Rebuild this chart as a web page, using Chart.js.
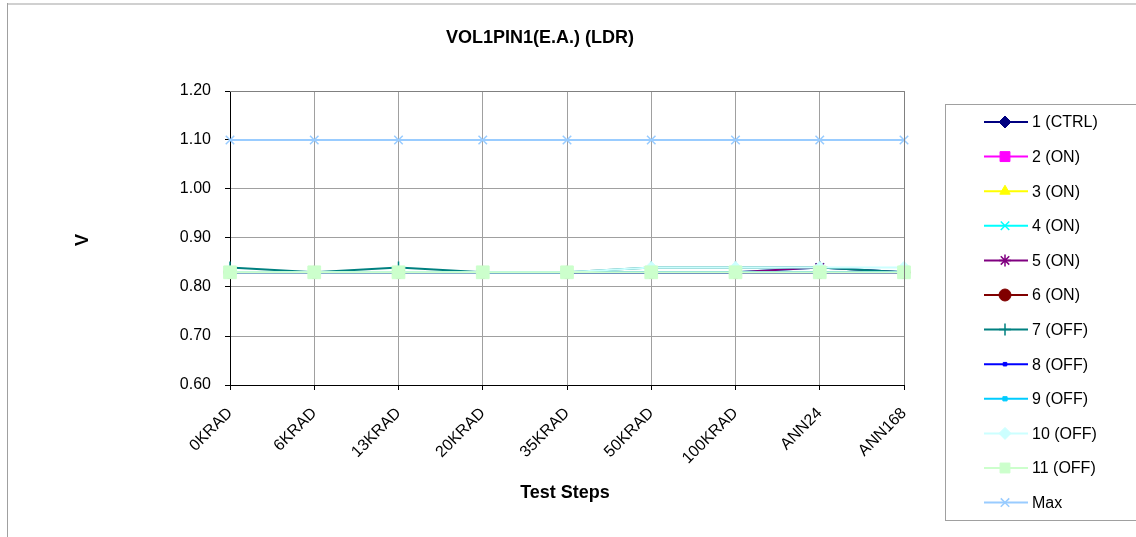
<!DOCTYPE html>
<html>
<head>
<meta charset="utf-8">
<script src="https://cdn.jsdelivr.net/npm/chart.js@4.4.0/dist/chart.umd.min.js"></script>
<style>
  html, body { margin: 0; padding: 0; background: #fff; }
  #wrap { width: 1136px; height: 537px; }
</style>
</head>
<body>
<div id="wrap"><canvas id="chart" width="1136" height="537"></canvas></div>
<script>
// test steps on the x axis
const steps = ["0KRAD", "6KRAD", "13KRAD", "20KRAD", "35KRAD", "50KRAD", "100KRAD", "ANN24", "ANN168"];
const yTicks = [0.60, 0.70, 0.80, 0.90, 1.00, 1.10, 1.20];

// measured values per device (V)
const dev1  = [0.83, 0.83, 0.83, 0.83, 0.83, 0.83, 0.83, 0.83, 0.83];
const dev2  = [0.83, 0.83, 0.83, 0.83, 0.83, 0.83, 0.83, 0.83, 0.83];
const dev3  = [0.83, 0.83, 0.83, 0.83, 0.83, 0.83, 0.83, 0.83, 0.83];
const dev4  = [0.83, 0.83, 0.83, 0.83, 0.83, 0.83, 0.83, 0.84, 0.83];
const dev5  = [0.83, 0.83, 0.83, 0.83, 0.83, 0.83, 0.83, 0.84, 0.83];
const dev6  = [0.83, 0.83, 0.83, 0.83, 0.83, 0.83, 0.83, 0.83, 0.83];
const dev7  = [0.84, 0.83, 0.84, 0.83, 0.83, 0.84, 0.84, 0.84, 0.83];
const dev8  = [0.83, 0.83, 0.83, 0.83, 0.83, 0.83, 0.83, 0.83, 0.83];
const dev9  = [0.83, 0.83, 0.83, 0.83, 0.83, 0.83, 0.83, 0.83, 0.83];
const dev10 = [0.83, 0.83, 0.83, 0.83, 0.83, 0.84, 0.84, 0.84, 0.84];
const dev11 = [0.83, 0.83, 0.83, 0.83, 0.83, 0.83, 0.83, 0.83, 0.83];
const maxLimit = [1.10, 1.10, 1.10, 1.10, 1.10, 1.10, 1.10, 1.10, 1.10];

const seriesNames = ["1 (CTRL)", "2 (ON)", "3 (ON)", "4 (ON)", "5 (ON)", "6 (ON)",
  "7 (OFF)", "8 (OFF)", "9 (OFF)", "10 (OFF)", "11 (OFF)", "Max"];
const seriesData = [dev1, dev2, dev3, dev4, dev5, dev6, dev7, dev8, dev9, dev10, dev11, maxLimit];

const colors = ["#000080", "#ff00ff", "#ffff00", "#00ffff", "#800080", "#800000",
  "#008080", "#0000ff", "#00ccff", "#ccffff", "#ccffcc", "#99ccff"];
const styles = ["rectRot", "rect", "triangle", "crossRot", "star", "circle",
  "cross", "rect", "rect", "rectRot", "rect", "crossRot"];
const radii = [6, 7, 6, 6, 6, 6, 6, 2.5, 3, 6, 9, 6];

const FONT = "'Liberation Sans', Arial, sans-serif";

const datasets = seriesNames.map((name, i) => ({
  label: name,
  data: seriesData[i],
  borderColor: colors[i],
  backgroundColor: colors[i],
  pointBackgroundColor: colors[i],
  pointBorderColor: colors[i],
  pointStyle: styles[i],
  pointRadius: radii[i],
  pointBorderWidth: (styles[i] === "crossRot" || styles[i] === "cross" || styles[i] === "star") ? 1.5 : 1,
  borderWidth: 2,
  tension: 0,
  order: seriesNames.length - i
}));

// titles, frame and the legend box
const decorPlugin = {
  id: "decor",
  afterDraw(chart) {
    const ctx = chart.ctx;
    const ca = chart.chartArea;
    ctx.save();
    // outer frame
    ctx.strokeStyle = "#d0d0d0";
    ctx.lineWidth = 2;
    ctx.beginPath(); ctx.moveTo(7, 4); ctx.lineTo(1136, 4); ctx.stroke();
    ctx.strokeStyle = "#a0a0a0";
    ctx.lineWidth = 1;
    ctx.beginPath(); ctx.moveTo(7.5, 3); ctx.lineTo(7.5, 537); ctx.stroke();

    // plot area top/right edge
    ctx.strokeStyle = "#808080";
    ctx.lineWidth = 1;
    ctx.beginPath();
    ctx.moveTo(ca.left, ca.top + 0.5); ctx.lineTo(ca.right + 0.5, ca.top + 0.5);
    ctx.lineTo(ca.right + 0.5, ca.bottom);
    ctx.stroke();

    // titles
    ctx.fillStyle = "#000";
    ctx.textAlign = "center";
    ctx.textBaseline = "middle";
    ctx.font = "bold 18px " + FONT;
    ctx.fillText("VOL1PIN1(E.A.) (LDR)", 540, 38);
    ctx.fillText("Test Steps", 565, 493);
    ctx.save();
    ctx.translate(83, 240);
    ctx.rotate(-Math.PI / 2);
    ctx.fillText("V", 0, 0);
    ctx.restore();

    // legend
    ctx.strokeStyle = "#a0a0a0";
    ctx.lineWidth = 1;
    ctx.strokeRect(945.5, 104.5, 200, 416);
    ctx.font = "16px " + FONT;
    ctx.textAlign = "left";
    chart.data.datasets.forEach((ds, i) => {
      const y = 122 + i * 34.6;
      ctx.strokeStyle = ds.borderColor;
      ctx.lineWidth = 2;
      ctx.beginPath(); ctx.moveTo(984, y); ctx.lineTo(1028, y); ctx.stroke();
      ctx.fillStyle = ds.pointBackgroundColor;
      ctx.strokeStyle = ds.pointBorderColor;
      ctx.lineWidth = ds.pointBorderWidth;
      Chart.helpers.drawPoint(ctx, {
        pointStyle: ds.pointStyle, radius: Math.min(ds.pointRadius, 7), rotation: 0, borderWidth: ds.pointBorderWidth
      }, 1005, y);
      ctx.fillStyle = "#000";
      ctx.fillText(ds.label, 1032, y + 1);
    });
    ctx.restore();
  }
};

new Chart(document.getElementById("chart"), {
  type: "line",
  data: { labels: steps, datasets },
  options: {
    responsive: false,
    animation: false,
    events: [],
    layout: { padding: { left: 0, top: 91, right: 232, bottom: 0 } },
    plugins: { legend: { display: false }, tooltip: { enabled: false }, title: { display: false } },
    scales: {
      x: {
        offset: false,
        afterFit(scale) { scale.height = 152; },
        grid: { color: "#a0a0a0", lineWidth: 1, tickColor: "#000", tickLength: 5, drawTicks: true },
        border: { color: "#000", width: 1 },
        ticks: {
          color: "#000",
          font: { family: FONT, size: 16 },
          minRotation: 45,
          maxRotation: 45,
          padding: 14,
          autoSkip: false
        }
      },
      y: {
        min: yTicks[0],
        max: yTicks[yTicks.length - 1],
        afterFit(scale) { scale.width = 230; },
        afterBuildTicks(scale) { scale.ticks = yTicks.map(v => ({ value: v })); },
        grid: { color: "#a0a0a0", lineWidth: 1, tickColor: "#000", tickLength: 5 },
        border: { color: "#000", width: 1 },
        ticks: {
          color: "#000",
          font: { family: FONT, size: 16 },
          padding: 14,
          callback: v => Number(v).toFixed(2)
        }
      }
    }
  },
  plugins: [decorPlugin]
});
</script>
</body>
</html>
